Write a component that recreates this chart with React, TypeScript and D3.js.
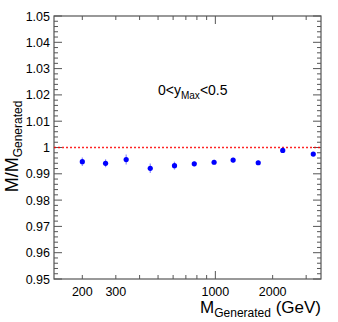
import React from "react";
import * as d3 from "d3";

const masses = [200, 265, 340, 455, 610, 775, 985, 1240, 1680, 2260, 3270];
const ratios = [0.9946, 0.9940, 0.9954, 0.9921, 0.9931, 0.9938, 0.9944, 0.9952, 0.9942, 0.9989, 0.9975];
const errors = [0.0016, 0.0015, 0.0019, 0.0018, 0.0015, 0.0009, 0.0009, 0.0009, 0.0009, 0.0006, 0.0006];
const yTicks = [0.95, 0.96, 0.97, 0.98, 0.99, 1, 1.01, 1.02, 1.03, 1.04, 1.05];
const yTickLabels = ["0.95", "0.96", "0.97", "0.98", "0.99", "1", "1.01", "1.02", "1.03", "1.04", "1.05"];
const xLabelTicks = [200, 300, 1000, 2000];
const xMinorTicks = [200, 300, 400, 500, 600, 700, 800, 900, 2000, 3000];
const xMajorTicks = [1000];

const W = 338, H = 322;
const L = 54, R = 321, T = 16, B = 279;
const FONT = "'Liberation Sans', Arial, Helvetica, sans-serif";

export default function App() {
  const x = d3.scaleLog().domain([142, 3590]).range([L, R]);
  const y = d3.scaleLinear().domain([0.95, 1.05]).range([B, T]);
  const yMinor = d3.range(0.95, 1.0501, 0.002);
  const axisColor = "#555";
  return (
    <svg width={W} height={H} style={{ position: "absolute", left: 0, top: 0 }} fontFamily={FONT}>
      <rect x={0} y={0} width={W} height={H} fill="#fff" />
      <rect x={L} y={T} width={R - L} height={B - T} fill="none" stroke={axisColor} strokeWidth={1.2} />
      {yMinor.map((v, i) => {
        const major = i % 5 === 0;
        const len = major ? 8 : 4;
        return (
          <g key={"ym" + i} stroke={axisColor} strokeWidth={1}>
            <line x1={L} x2={L + len} y1={y(v)} y2={y(v)} />
            <line x1={R} x2={R - len} y1={y(v)} y2={y(v)} />
          </g>
        );
      })}
      {yTicks.map((v, i) => (
        <text key={"yl" + i} x={L - 4} y={y(v) + 4.5} fontSize={12.5} textAnchor="end" fill="#000">
          {yTickLabels[i]}
        </text>
      ))}
      {xMinorTicks.map((v, i) => (
        <g key={"xm" + i} stroke={axisColor} strokeWidth={1}>
          <line x1={x(v)} x2={x(v)} y1={B} y2={B - 4} />
          <line x1={x(v)} x2={x(v)} y1={T} y2={T + 4} />
        </g>
      ))}
      {xMajorTicks.map((v, i) => (
        <g key={"xM" + i} stroke={axisColor} strokeWidth={1}>
          <line x1={x(v)} x2={x(v)} y1={B} y2={B - 8} />
          <line x1={x(v)} x2={x(v)} y1={T} y2={T + 8} />
        </g>
      ))}
      {xLabelTicks.map((v, i) => (
        <text key={"xl" + i} x={x(v)} y={296} fontSize={12.5} textAnchor="middle" fill="#000">
          {String(v)}
        </text>
      ))}
      <line x1={L} x2={R} y1={y(1)} y2={y(1)} stroke="#ff0000" strokeWidth={1.5} strokeDasharray="2,2" opacity={0.85} />
      {masses.map((m, i) => (
        <g key={"p" + i}>
          <line x1={x(m)} x2={x(m)} y1={y(ratios[i] - errors[i])} y2={y(ratios[i] + errors[i])} stroke="#0000ff" strokeOpacity={0.45} strokeWidth={1.2} />
          <circle cx={x(m)} cy={y(ratios[i])} r={2.6} fill="#0000ff" />
        </g>
      ))}
      <text x={158} y={95} fontSize={14} fill="#000">
        0&lt;y<tspan fontSize={10} dy={4}>Max</tspan><tspan dy={-4}>&lt;0.5</tspan>
      </text>
      <text x={R} y={313} fontSize={17} textAnchor="end" fill="#000">
        M<tspan fontSize={12} dy={4}>Generated</tspan><tspan dy={-4}> (GeV)</tspan>
      </text>
      <text transform={`translate(18,${(T + B) / 2 - 1}) rotate(-90)`} fontSize={18} textAnchor="middle" fill="#000">
        M/M<tspan fontSize={12} dy={4}>Generated</tspan>
      </text>
    </svg>
  );
}
